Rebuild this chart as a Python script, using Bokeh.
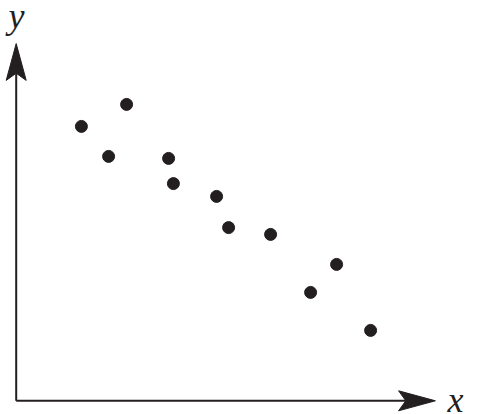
from bokeh.plotting import figure
from bokeh.embed import file_html
from bokeh.resources import INLINE
from bokeh.core.properties import value

# scatter values (arbitrary units, origin at the axes corner)
x_vals = [1.63, 2.76, 2.31, 3.81, 3.93, 5.01, 5.31, 6.36, 8.01, 7.36, 8.86]
y_vals = [6.86, 7.41, 6.11, 6.06, 5.43, 5.11, 4.33, 4.16, 3.41, 2.71, 1.76]

x_axis_end = 10.48
y_axis_end = 8.93
x_label = "x"
y_label = "y"

INK = "#231f20"

p = figure(width=487, height=414, x_range=(-0.3925, 11.7825), y_range=(-0.3425, 10.0075),
           output_backend="svg", toolbar_location=None, min_border=0,
           background_fill_color="white", outline_line_color=None)
p.axis.visible = False
p.grid.visible = False

# arrow head: length, half width, notch depth (in data units)
head_len, head_half, notch = 0.92, 0.25, 0.18

# x axis
p.line([0, x_axis_end - head_len + notch], [0, 0], line_color=INK, line_width=2)
p.patch([x_axis_end, x_axis_end - head_len, x_axis_end - head_len + notch, x_axis_end - head_len],
        [0, head_half, 0, -head_half], fill_color=INK, line_color=INK)

# y axis
p.line([0, 0], [0, y_axis_end - head_len + notch], line_color=INK, line_width=2)
p.patch([0, head_half, 0, -head_half],
        [y_axis_end, y_axis_end - head_len, y_axis_end - head_len + notch, y_axis_end - head_len],
        fill_color=INK, line_color=INK)

p.scatter(x_vals, y_vals, size=12, fill_color=INK, line_color=INK)

p.text(x=[10.78], y=[0.01], text=[x_label], text_font=value("Liberation Serif"),
       text_font_style="italic", text_font_size="36px", text_color=INK,
       text_baseline="alphabetic", text_align="left")
p.text(x=[-0.19], y=[9.61], text=[y_label], text_font=value("Liberation Serif"),
       text_font_style="italic", text_font_size="36px", text_color=INK,
       text_baseline="alphabetic", text_align="left")

open("out.html", "w").write(file_html(p, INLINE))
